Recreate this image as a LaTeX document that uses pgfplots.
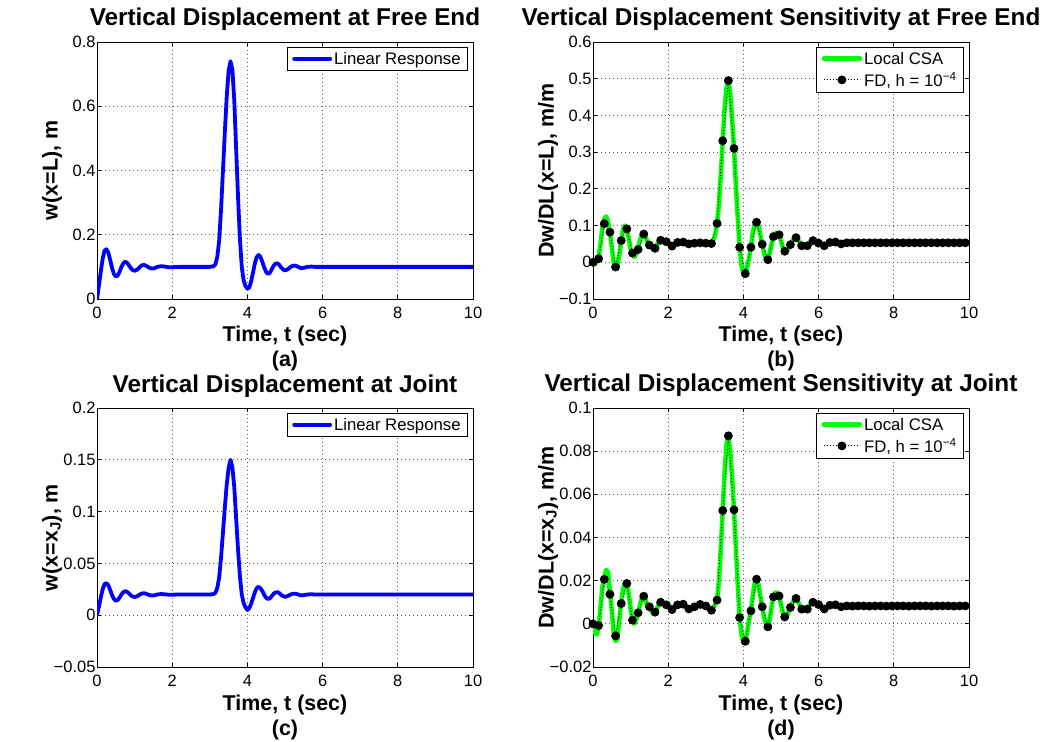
\documentclass[border=0pt]{standalone}
\usepackage{fontspec}
\setmainfont{Liberation Sans}
\usepackage{pgfplots}
\pgfplotsset{compat=1.18}

% Linear response at the free end: t, w
\pgfplotstableread{
t w
0 0
0.05 0.040
0.10 0.085
0.15 0.125
0.20 0.150
0.25 0.155
0.30 0.145
0.35 0.122
0.40 0.097
0.45 0.078
0.50 0.070
0.55 0.073
0.60 0.085
0.65 0.100
0.70 0.111
0.75 0.116
0.80 0.113
0.85 0.105
0.90 0.096
0.95 0.090
1.00 0.088
1.05 0.090
1.10 0.095
1.15 0.101
1.20 0.105
1.25 0.106
1.30 0.104
1.35 0.100
1.40 0.097
1.45 0.095
1.50 0.095
1.55 0.097
1.60 0.100
1.70 0.102
1.80 0.101
1.90 0.099
2.00 0.099
2.20 0.100
3.00 0.100
3.10 0.102
3.15 0.108
3.20 0.132
3.25 0.183
3.30 0.280
3.35 0.400
3.40 0.520
3.45 0.630
3.50 0.710
3.55 0.740
3.60 0.715
3.65 0.620
3.70 0.470
3.75 0.320
3.80 0.190
3.85 0.100
3.90 0.058
3.95 0.040
4.00 0.032
4.05 0.036
4.10 0.055
4.15 0.083
4.20 0.112
4.25 0.131
4.30 0.137
4.35 0.130
4.40 0.115
4.45 0.097
4.50 0.084
4.55 0.078
4.60 0.082
4.65 0.093
4.70 0.104
4.75 0.110
4.80 0.111
4.85 0.106
4.90 0.098
4.95 0.092
5.00 0.089
5.05 0.091
5.10 0.095
5.15 0.100
5.20 0.103
5.25 0.104
5.30 0.103
5.35 0.100
5.40 0.097
5.45 0.096
5.50 0.097
5.60 0.100
5.70 0.101
5.80 0.100
6.00 0.100
10.00 0.100
}\wfree

% Linear response at the joint: t, w
\pgfplotstableread{
t w
0 0
0.05 0.008
0.10 0.017
0.15 0.025
0.20 0.030
0.25 0.031
0.30 0.029
0.35 0.0244
0.40 0.0194
0.45 0.0156
0.50 0.0140
0.55 0.0146
0.60 0.0170
0.65 0.0200
0.70 0.0222
0.75 0.0232
0.80 0.0226
0.85 0.0210
0.90 0.0192
0.95 0.0180
1.00 0.0176
1.05 0.0180
1.10 0.0190
1.15 0.0202
1.20 0.0210
1.25 0.0212
1.30 0.0208
1.35 0.0200
1.40 0.0194
1.45 0.0190
1.50 0.0190
1.55 0.0194
1.60 0.0200
1.70 0.0204
1.80 0.0202
1.90 0.0198
2.00 0.0198
2.20 0.0200
3.00 0.0200
3.10 0.0204
3.15 0.0216
3.20 0.0264
3.25 0.0366
3.30 0.0560
3.35 0.0800
3.40 0.1040
3.45 0.1260
3.50 0.1420
3.55 0.1500
3.60 0.1430
3.65 0.1240
3.70 0.0940
3.75 0.0640
3.80 0.0380
3.85 0.0200
3.90 0.0116
3.95 0.0075
4.00 0.0050
4.05 0.0068
4.10 0.0110
4.15 0.0166
4.20 0.0224
4.25 0.0262
4.30 0.0274
4.35 0.0260
4.40 0.0230
4.45 0.0194
4.50 0.0168
4.55 0.0156
4.60 0.0164
4.65 0.0186
4.70 0.0208
4.75 0.0220
4.80 0.0222
4.85 0.0212
4.90 0.0196
4.95 0.0184
5.00 0.0178
5.05 0.0182
5.10 0.0190
5.15 0.0200
5.20 0.0206
5.25 0.0208
5.30 0.0206
5.35 0.0200
5.40 0.0194
5.45 0.0192
5.50 0.0194
5.60 0.0200
5.70 0.0202
5.80 0.0200
6.00 0.0200
10.00 0.0200
}\wjoint

% Local CSA sensitivity at the free end: t, dw/dL
\pgfplotstableread{
t s
0 0.000
0.05 -0.005
0.10 0.000
0.15 0.015
0.20 0.050
0.25 0.095
0.30 0.118
0.35 0.125
0.40 0.110
0.45 0.080
0.50 0.040
0.55 0.000
0.60 -0.015
0.65 -0.010
0.70 0.020
0.75 0.058
0.80 0.090
0.85 0.100
0.90 0.092
0.95 0.065
1.00 0.035
1.05 0.020
1.10 0.015
1.15 0.022
1.20 0.040
1.25 0.060
1.30 0.075
1.35 0.077
1.40 0.068
1.45 0.055
1.50 0.046
1.55 0.040
1.60 0.038
1.65 0.040
1.70 0.048
1.75 0.056
1.80 0.061
1.85 0.062
1.90 0.060
1.95 0.057
2.00 0.052
2.10 0.045
2.20 0.052
2.30 0.056
2.40 0.055
2.50 0.050
2.60 0.051
2.70 0.053
2.80 0.054
2.90 0.053
3.00 0.052
3.10 0.052
3.15 0.052
3.20 0.060
3.25 0.075
3.30 0.106
3.35 0.160
3.40 0.240
3.45 0.331
3.50 0.420
3.55 0.475
3.60 0.492
3.65 0.460
3.70 0.390
3.75 0.310
3.80 0.210
3.85 0.120
3.90 0.041
3.95 -0.010
4.00 -0.032
4.05 -0.031
4.10 -0.012
4.15 0.010
4.20 0.041
4.25 0.080
4.30 0.105
4.35 0.112
4.40 0.100
4.45 0.075
4.50 0.049
4.55 0.025
4.60 0.008
4.65 0.007
4.70 0.025
4.75 0.050
4.80 0.070
4.85 0.079
4.90 0.080
4.95 0.075
5.00 0.058
5.05 0.040
5.10 0.030
5.15 0.030
5.20 0.038
5.25 0.048
5.30 0.058
5.35 0.065
5.40 0.067
5.45 0.062
5.50 0.052
5.55 0.045
5.60 0.043
5.65 0.043
5.70 0.045
5.75 0.051
5.80 0.057
5.85 0.059
5.90 0.058
5.95 0.055
6.00 0.052
6.10 0.046
6.15 0.045
6.20 0.048
6.30 0.054
6.40 0.055
6.50 0.054
6.60 0.050
6.70 0.052
6.80 0.053
7.00 0.053
10.00 0.053
}\csafree

% Local CSA sensitivity at the joint: t, dw/dL
\pgfplotstableread{
t s
0 0.0000
0.05 -0.0040
0.10 -0.0050
0.15 -0.0020
0.20 0.0080
0.25 0.0170
0.30 0.0220
0.35 0.0250
0.40 0.0240
0.45 0.0150
0.50 0.0060
0.55 -0.0040
0.60 -0.0080
0.65 -0.0070
0.70 0.0020
0.75 0.0100
0.80 0.0160
0.85 0.0190
0.90 0.0190
0.95 0.0140
1.00 0.0070
1.05 0.0020
1.10 0.0000
1.15 0.0020
1.20 0.0050
1.25 0.0090
1.30 0.0120
1.35 0.0130
1.40 0.0110
1.45 0.0080
1.50 0.0075
1.55 0.0060
1.60 0.0050
1.65 0.0055
1.70 0.0070
1.75 0.0095
1.80 0.0103
1.85 0.0101
1.90 0.0095
1.95 0.0088
2.00 0.0080
2.10 0.0066
2.20 0.0082
2.25 0.0088
2.30 0.0090
2.40 0.0091
2.50 0.0075
2.55 0.0069
2.60 0.0072
2.70 0.0079
2.80 0.0088
2.85 0.0090
2.90 0.0088
3.00 0.0083
3.10 0.0070
3.15 0.0063
3.20 0.0075
3.25 0.0090
3.30 0.0110
3.35 0.0200
3.40 0.0350
3.45 0.0525
3.50 0.0700
3.55 0.0830
3.60 0.0865
3.65 0.0800
3.70 0.0680
3.75 0.0528
3.80 0.0350
3.85 0.0180
3.90 0.0030
3.95 -0.0050
4.00 -0.0085
4.05 -0.0082
4.10 -0.0040
4.15 0.0020
4.20 0.0060
4.25 0.0130
4.30 0.0190
4.35 0.0207
4.40 0.0180
4.45 0.0130
4.50 0.0079
4.55 0.0030
4.60 0.0000
4.65 -0.0014
4.70 0.0020
4.75 0.0080
4.80 0.0125
4.85 0.0145
4.90 0.0145
4.95 0.0129
5.00 0.0090
5.05 0.0050
5.10 0.0032
5.15 0.0035
5.20 0.0055
5.25 0.0076
5.30 0.0095
5.35 0.0110
5.40 0.0118
5.45 0.0105
5.50 0.0085
5.55 0.0068
5.60 0.0065
5.70 0.0068
5.75 0.0085
5.80 0.0097
5.85 0.0100
5.90 0.0097
6.00 0.0089
6.10 0.0072
6.15 0.0069
6.20 0.0075
6.30 0.0086
6.45 0.0088
6.60 0.0079
6.75 0.0083
10.00 0.0083
}\csajoint

% Finite-difference sensitivities, sampled every 0.15 s: t, free end, joint
\pgfplotstableread{
t sf sj
0.00 0.000 0.0000
0.15 0.010 -0.0008
0.30 0.105 0.0206
0.45 0.082 0.0137
0.60 -0.013 -0.0056
0.75 0.059 0.0094
0.90 0.091 0.0187
1.05 0.025 0.0017
1.20 0.035 0.0051
1.35 0.077 0.0128
1.50 0.047 0.0079
1.65 0.038 0.0054
1.80 0.060 0.0100
1.95 0.056 0.0088
2.10 0.044 0.0066
2.25 0.054 0.0088
2.40 0.055 0.0091
2.55 0.050 0.0069
2.70 0.052 0.0079
2.85 0.053 0.0090
3.00 0.052 0.0083
3.15 0.051 0.0063
3.30 0.106 0.0110
3.45 0.331 0.0525
3.60 0.495 0.0871
3.75 0.310 0.0528
3.90 0.041 0.0029
4.05 -0.031 -0.0081
4.20 0.041 0.0060
4.35 0.109 0.0207
4.50 0.049 0.0079
4.65 0.007 -0.0014
4.80 0.070 0.0125
4.95 0.075 0.0129
5.10 0.030 0.0032
5.25 0.048 0.0076
5.40 0.067 0.0118
5.55 0.045 0.0068
5.70 0.045 0.0068
5.85 0.059 0.0100
6.00 0.052 0.0089
6.15 0.045 0.0069
6.30 0.054 0.0086
6.45 0.055 0.0088
6.60 0.050 0.0079
6.75 0.053 0.0083
6.90 0.053 0.0082
7.05 0.053 0.0083
7.20 0.053 0.0083
7.35 0.053 0.0082
7.50 0.053 0.0083
7.65 0.053 0.0083
7.80 0.053 0.0082
7.95 0.053 0.0083
8.10 0.053 0.0083
8.25 0.053 0.0083
8.40 0.053 0.0082
8.55 0.053 0.0083
8.70 0.053 0.0083
8.85 0.053 0.0083
9.00 0.053 0.0082
9.15 0.053 0.0083
9.30 0.053 0.0083
9.45 0.053 0.0083
9.60 0.053 0.0082
9.75 0.053 0.0083
9.90 0.053 0.0083
}\fdsens

\definecolor{mblue}{rgb}{0,0,1}
\definecolor{mgreen}{rgb}{0,1,0}

\pgfplotsset{
  panel/.style={
    scale only axis,
    width=376bp,
    xmin=0, xmax=10,
    xtick={0,2,4,6,8,10},
    tick align=inside,
    major tick length=4bp,
    axis line style={line width=0.8bp},
    every tick/.style={black, line width=0.8bp},
    grid=major,
    major grid style={black!65, line width=0.8bp, dash pattern=on 1bp off 3bp},
    tick label style={font=\fontsize{16.5}{19}\selectfont},
    /pgf/number format/assume math mode=true,
    scaled y ticks=false,
    yticklabel style={/pgf/number format/fixed, /pgf/number format/precision=2, xshift=2bp},
    xticklabel style={yshift=-4.5bp},
    every axis title/.style={font=\bfseries\fontsize{24.4}{28}\selectfont, inner sep=0bp,
      at={([yshift=16bp]axis description cs:0.5,1)}, anchor=base},
    xlabel style={font=\bfseries\fontsize{21.5}{25}\selectfont, inner sep=0bp,
      at={([yshift=-43bp]axis description cs:0.5,0)}, anchor=base},
    ylabel style={font=\bfseries\fontsize{21.5}{25}\selectfont,
      at={([xshift=-45bp]axis description cs:0,0.5)}, anchor=center},
    legend style={font=\fontsize{16.8}{20}\selectfont,
      at={([xshift=-5bp,yshift=-5bp]axis description cs:1,1)}, anchor=north east,
      draw=black, line width=0.8bp, inner xsep=5bp, inner ysep=2.5bp,
      row sep=2.5bp},
    legend cell align=left,
    legend image code/.code={\draw[#1] (0bp,0bp) -- (36bp,0bp);},
    clip mode=individual,
    xlabel={Time, t (sec)},
  },
  fdline/.style={black, line width=0.8bp, dash pattern=on 1bp off 2bp,
    mark=*, mark size=4bp, mark options={solid, fill=black},
    legend image code/.code={\draw[mark repeat=2, mark phase=2, #1]
      plot coordinates {(0bp,0bp) (18bp,0bp) (36bp,0bp)};}},
  csaline/.style={mgreen, line width=4.5bp, line join=round, line cap=round},
  respline/.style={mblue, line width=3.8bp, line join=round, line cap=round},
}

\newcommand{\subcap}[1]{\node[font=\bfseries\fontsize{21.5}{25}\selectfont, anchor=base, inner sep=0bp]
  at ([yshift=-68bp]axis description cs:0.5,0) {(#1)};}

\begin{document}
\begin{tikzpicture}
\useasboundingbox (0,0) rectangle (1045bp,742bp);

% (a) free-end displacement
\begin{axis}[panel, height=257bp, at={(97bp,443bp)}, anchor=south west,
  ymin=0, ymax=0.8, ytick={0,0.2,0.4,0.6,0.8},
  title={Vertical Displacement at Free End},
  ylabel={w(x=L), m}]
\addplot[respline] table[x=t, y=w] {\wfree};
\addlegendentry{Linear Response}
\subcap{a}
\end{axis}

% (b) free-end sensitivity
\begin{axis}[panel, height=257bp, at={(593bp,443bp)}, anchor=south west,
  ymin=-0.1, ymax=0.6, ytick={-0.1,0,0.1,0.2,0.3,0.4,0.5,0.6},
  yticklabels={−0.1,0,0.1,0.2,0.3,0.4,0.5,0.6},
  title={Vertical Displacement Sensitivity at Free End},
  ylabel={Dw/DL(x=L), m/m}]
\addplot[csaline] table[x=t, y=s] {\csafree};
\addlegendentry{Local CSA}
\addplot[fdline] table[x=t, y=sf] {\fdsens};
\addlegendentry{FD, h = 10\textsuperscript{−4}}
\subcap{b}
\end{axis}

% (c) joint displacement
\begin{axis}[panel, height=259bp, at={(97bp,75bp)}, anchor=south west,
  ymin=-0.05, ymax=0.2, ytick={-0.05,0,0.05,0.1,0.15,0.2},
  yticklabels={−0.05,0,0.05,0.1,0.15,0.2},
  title={Vertical Displacement at Joint},
  ylabel={w(x=x\textsubscript{J}), m}]
\addplot[respline] table[x=t, y=w] {\wjoint};
\addlegendentry{Linear Response}
\subcap{c}
\end{axis}

% (d) joint sensitivity
\begin{axis}[panel, height=259bp, at={(593bp,75bp)}, anchor=south west,
  ymin=-0.02, ymax=0.1, ytick={-0.02,0,0.02,0.04,0.06,0.08,0.1},
  yticklabels={−0.02,0,0.02,0.04,0.06,0.08,0.1},
  title={Vertical Displacement Sensitivity at Joint},
  ylabel={Dw/DL(x=x\textsubscript{J}), m/m}]
\addplot[csaline] table[x=t, y=s] {\csajoint};
\addlegendentry{Local CSA}
\addplot[fdline] table[x=t, y=sj] {\fdsens};
\addlegendentry{FD, h = 10\textsuperscript{−4}}
\subcap{d}
\end{axis}
\end{tikzpicture}
\end{document}
